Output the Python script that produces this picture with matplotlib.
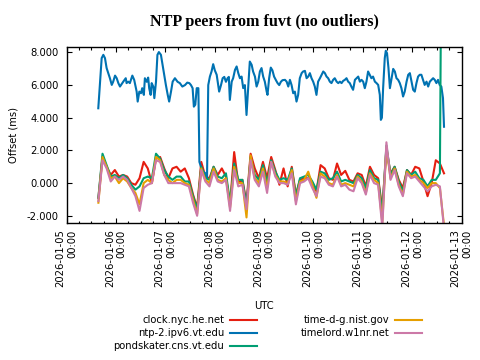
import numpy as np
import matplotlib
matplotlib.use("Agg")
import matplotlib.pyplot as plt
import matplotlib.dates as mdates

plt.rcParams['font.family'] = ['DejaVu Sans']
plt.rcParams['axes.unicode_minus'] = False

# hours since 2026-01-05 00:00 UTC for ntp-2.ipv6.vt.edu
ntp2_hours = [15.45, 17.1, 17.9, 18.7, 19.5, 20.3, 21.1, 22.0, 22.7, 23.6, 24.4, 25.2, 26.0,
              26.8, 27.6, 28.8, 29.2, 30.0, 30.8, 32.0, 32.9, 34.1, 34.6, 35.4, 36.2, 36.8,
              37.6, 38.1, 39.0, 39.7, 40.2, 40.9, 41.4, 42.2, 42.7, 43.5, 44.2, 44.9, 45.9,
              46.7, 47.5, 48.3, 49.2, 49.9, 50.8, 51.6, 52.7, 54.0, 55.1, 56.3, 57.6, 58.7,
              59.7, 60.5, 61.3, 61.9, 62.6, 63.3, 64.1, 64.6, 65.6, 66.6, 67.5, 68.3, 68.9,
              69.7, 70.5, 71.3, 72.1, 73.0, 73.5, 74.2, 75.1, 75.9, 76.7, 77.5, 78.3, 78.9,
              79.4, 80.3, 81.0, 81.9, 82.7, 83.5, 84.3, 85.1, 85.9, 86.7, 87.5, 88.3, 89.1,
              90.0, 90.7, 91.6, 92.4, 93.2, 94.0, 94.8, 95.6, 96.4, 97.3, 97.7, 98.5, 99.3,
              100.1, 100.9, 101.8, 102.6, 103.4, 104.2, 105.0, 106.2, 107.0, 107.8, 108.6,
              109.4, 110.2, 111.0, 111.8, 112.6, 113.4, 114.3, 115.0, 115.9, 116.7, 117.5,
              118.3, 119.1, 119.9, 120.7, 121.5, 122.3, 123.2, 124.0, 124.8, 125.6, 126.4,
              127.2, 128.0, 128.8, 129.6, 130.4, 131.3, 132.1, 132.9, 133.7, 134.5, 135.3,
              136.1, 136.9, 137.7, 138.5, 139.3, 140.2, 141.0, 141.8, 142.6, 143.4, 144.2,
              145.0, 145.8, 146.6, 147.4, 148.2, 149.0, 149.9, 150.7, 151.5, 152.3, 152.8,
              153.3, 153.9, 154.7, 155.2, 155.8, 156.5, 157.2, 158.0, 158.8, 159.6, 160.4,
              161.2, 162.0, 162.8, 163.6, 164.4, 165.3, 166.1, 166.9, 167.7, 168.5, 169.3,
              170.1, 170.9, 171.7, 172.5, 173.3, 174.1, 175.0, 175.8, 176.6, 177.4, 178.2,
              179.0, 179.8, 180.6, 181.4, 182.2, 183.0, 183.5]
ntp2_ms = [4.58, 7.65, 7.85, 7.65, 7.04, 6.73, 6.42, 6.01, 6.21, 6.58, 6.42, 6.12, 5.91,
           6.06, 6.21, 6.42, 6.12, 6.21, 6.12, 6.58, 6.32, 5.6, 4.99, 5.6, 5.5, 5.81,
           5.4, 6.42, 6.2, 6.46, 5.8, 5.4, 6.12, 5.9, 5.2, 6.2, 7.85, 8.02, 7.85,
           7.24, 6.63, 6.01, 5.4, 4.99, 5.6, 6.21, 6.42, 6.2, 6.12, 5.91, 6.0, 6.15,
           6.12, 6.0, 5.81, 4.68, 4.8, 5.81, 5.81, 1.3, 0.9, 0.7, 0.6, 0.3, 6.0,
           6.52, 6.83, 7.28, 6.9, 6.63, 6.21, 5.6, 6.0, 6.42, 6.5, 6.2, 6.42, 6.5,
           5.09, 6.21, 6.42, 6.93, 7.14, 6.73, 6.42, 6.52, 5.81, 6.0, 4.17, 5.81, 7.44,
           7.24, 6.83, 6.52, 5.91, 6.21, 6.83, 7.04, 6.52, 6.21, 5.6, 5.4, 6.42, 7.07,
           6.9, 6.52, 6.3, 6.12, 6.0, 6.2, 6.3, 6.32, 6.21, 5.91, 6.32,
           6.0, 5.5, 5.6, 4.99, 5.4, 6.42, 6.73, 6.83, 6.87, 6.42, 6.52,
           6.73, 6.42, 6.21, 5.91, 5.4, 6.21, 6.42, 6.63, 6.83, 6.73, 6.52,
           6.42, 6.21, 6.12, 6.32, 6.42, 6.21, 6.12, 6.21, 6.12, 6.26, 6.32,
           6.42, 6.21, 6.12, 5.9, 5.71, 6.32, 6.42, 6.52, 6.21, 6.32, 6.21,
           5.81, 6.21, 6.83, 6.63, 6.42, 6.52, 6.21, 6.12, 6.01, 5.4, 3.87,
           4.0, 5.81, 7.65, 8.1, 7.95, 7.04, 5.81, 6.42, 6.99, 6.83, 6.42,
           6.32, 6.12, 5.81, 5.3, 5.6, 6.21, 6.63, 6.73, 6.21, 5.71, 5.6,
           6.12, 6.52, 6.63, 6.63, 6.32, 6.01, 6.21, 5.91, 6.21, 6.32, 6.42,
           6.32, 6.12, 6.32, 6.01, 5.91, 5.2, 3.45]

# shared 2-hour sample grid for the other peers (hours since 2026-01-05 00:00)
grid_hours = [15.5 + 2 * i for i in range(85)]

clock_ms = [-0.9, 1.6, 1.0, 0.5, 0.8, 0.4, 0.5, 0.4, 0.0, -0.1, 0.3, 1.3, 0.9, 0.0, 1.5,
            1.6, 0.9, 0.3, 0.9, 1.0, 0.7, 0.9, 0.3, -0.7, -1.5, 1.3, 0.4, 0.3, 1.0, 0.5,
            0.9, 0.4, -1.3, 1.9, 0.0, 0.2, -1.2, 1.8, 0.9, 0.3, 1.3, 0.3, 1.6, 0.8, -0.1,
            0.9, -0.2, 1.0, -0.7, 0.2, 0.3, 0.3, 0.0, -0.5, 1.1, 0.9, 0.3, 0.2, 1.2, 0.5,
            0.75, 0.2, 0.1, 0.6, 0.5, -0.2, 1.0, 0.5, 0.3, -1.6, 2.1, 0.6, 1.0, 0.2, -0.3,
            0.8, 0.5, 1.0, 0.9, 0.1, -0.8, 0.0, 1.4, 1.2, 0.6]
pondskater_ms = [-0.9, 1.8, 1.1, 0.4, 0.5, 0.3, 0.5, 0.3, -0.1, -0.4, -0.2, 0.3, 0.4, 0.3, 1.8,
                 1.5, 0.8, 0.4, 0.2, 0.4, 0.4, 0.1, 0.1, -0.8, -1.6, 1.0, 0.3, 0.2, 1.0, 0.4,
                 0.3, 0.6, -1.2, 1.2, 0.2, 0.2, -1.4, 1.6, 0.5, 0.2, 1.1, 0.0, 1.4, 0.7, 0.2,
                 0.3, 0.2, 0.9, -0.8, 0.3, 0.4, 0.5, 0.1, -0.4, 0.7, 0.6, 0.2, 0.3, 0.7, 0.1,
                 0.2, 0.1, 0.0, 0.5, 0.3, -0.3, 0.8, 0.3, 0.2, -1.8, 2.3, 0.5, 1.0, 0.1, -0.5,
                 0.8, 0.5, 0.7, 0.3, 0.2, -0.2, 0.2, 0.2, 0.6, 40.0]
nist_ms = [-1.2, 1.6, 1.0, 0.3, 0.4, 0.0, 0.3, 0.1, -0.3, -0.6, -1.3, 0.0, 0.2, 0.0, 1.6,
           1.4, 0.5, 0.2, 0.0, 0.2, 0.2, 0.0, -0.1, -1.0, -1.9, 0.9, 0.2, 0.0, 0.9, 0.2,
           0.1, 0.3, -1.5, 1.0, 0.0, 0.0, -2.1, 1.7, 0.3, 0.0, 0.9, -0.3, 1.3, 0.5, 0.1,
           0.1, 0.0, 0.8, -1.1, 0.1, 0.2, 0.7, -0.1, -0.9, 0.6, 0.4, 0.0, -0.1, 0.5, -0.1,
           0.0, -0.1, -0.2, 0.4, 0.1, -0.6, 0.6, 0.2, 0.0, -2.4, 2.2, 0.3, 0.9, -0.1, -0.7,
           0.7, 0.4, 0.5, 0.2, 0.0, -0.3, 0.0, 0.0, -0.3, -2.6]
timelord_ms = [-1.1, 1.4, 0.9, 0.1, 0.4, 0.2, 0.4, 0.2, -0.3, -0.8, -1.7, -0.3, -0.1, 0.0, 1.4,
               1.3, 0.5, 0.0, 0.0, 0.0, 0.0, -0.1, -0.2, -1.2, -2.0, 0.8, 0.1, -0.2, 0.7, 0.1,
               0.0, 0.2, -1.7, 0.8, -0.2, -0.1, -1.6, 1.4, 0.2, -0.2, 0.7, -0.6, 1.3, 0.4, 0.0,
               0.0, -0.1, 0.6, -1.3, 0.0, 0.1, 0.3, -0.3, -0.8, 0.4, 0.3, -0.1, -0.2, 0.4, -0.2,
               -0.1, -0.4, -0.5, 0.3, 0.0, -0.7, 0.5, 0.0, -0.1, -2.7, 2.5, 0.2, 0.8, -0.2, -0.8,
               0.6, 0.3, 0.4, 0.1, -0.2, -0.5, -0.2, -0.1, -0.2, -2.8]

yticks = [-2, 0, 2, 4, 6, 8]

base = np.datetime64('2026-01-05T00:00')


def to_time(hours):
    return base + (np.array(hours) * 3600).astype('timedelta64[s]')


t_ntp2 = to_time(ntp2_hours)
t_grid = to_time(grid_hours)

fig = plt.figure(figsize=(4.8, 3.6), dpi=100)
ax = fig.add_axes([66.5 / 480, 1 - 222.5 / 360, 395 / 480, 175.5 / 360])

lw = 1.5
ax.plot(t_grid, clock_ms, color='#e51e10', lw=lw, label='clock.nyc.he.net')
ax.plot(t_ntp2, ntp2_ms, color='#0072b2', lw=lw, label='ntp-2.ipv6.vt.edu')
ax.plot(t_grid, pondskater_ms, color='#009e73', lw=lw, label='pondskater.cns.vt.edu')
ax.plot(t_grid, nist_ms, color='#e69f00', lw=lw, label='time-d-g.nist.gov')
ax.plot(t_grid, timelord_ms, color='#cc79a7', lw=lw, label='timelord.w1nr.net')

ax.set_xlim(np.datetime64('2026-01-05T00:00'), np.datetime64('2026-01-13T00:00'))
ax.set_ylim(-2.41, 8.33)
ax.set_yticks(yticks)
ax.yaxis.set_major_formatter(matplotlib.ticker.StrMethodFormatter('{x:.3f}'))

ax.xaxis.set_major_locator(mdates.DayLocator())
ax.xaxis.set_minor_locator(mdates.HourLocator(byhour=[6, 12, 18]))
ax.xaxis.set_major_formatter(mdates.DateFormatter('%Y-%m-%d\n%H:%M'))

ax.tick_params(which='both', direction='in', top=True, right=True, width=0.8, labelsize=7.2)
ax.tick_params(which='major', length=3.6)
ax.tick_params(which='minor', length=1.8)
ax.tick_params(axis='y', pad=5.5)
ax.tick_params(axis='x', pad=5)
for lab in ax.get_xticklabels():
    lab.set_rotation(90)
    lab.set_multialignment('right')
    lab.set_horizontalalignment('center')
for sp in ax.spines.values():
    sp.set_linewidth(1.0)

ax.set_ylabel('Offset (ms)', fontsize=7.2, labelpad=6)
fig.text(0.55, 1 - 306 / 360, 'UTC', ha='center', va='center', fontsize=7.2)
fig.suptitle('NTP peers from fuvt (no outliers)', family='Liberation Serif',
             fontweight='bold', fontsize=11.6, x=264 / 480, y=1 - 22 / 360, va='center')

fig.legend(loc='upper center', bbox_to_anchor=(0.558, 1 - 310 / 360), ncol=2,
           frameon=False, markerfirst=False, fontsize=7.2, handlelength=2.7,
           handletextpad=0.6, columnspacing=4.3, labelspacing=0.3, borderpad=0)

fig.savefig('out.png', dpi=100)
